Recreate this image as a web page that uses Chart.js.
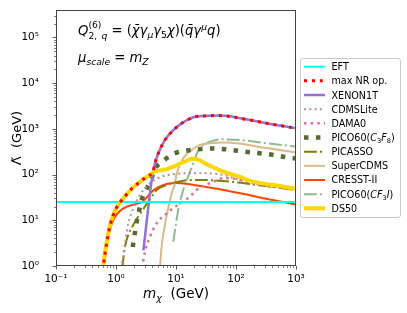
<!DOCTYPE html>
<html><head><meta charset="utf-8">
<script src="https://cdn.jsdelivr.net/npm/chart.js@4.4.0/dist/chart.umd.min.js"></script>
<style>html,body{margin:0;padding:0;background:#fff;overflow:hidden}canvas{display:block}</style>
</head><body>
<canvas id="c" width="407" height="313"></canvas>
<script>
// ---------------- data ----------------
const xTicks = [0.1, 1, 10, 100, 1000];
const yTicks = [1, 10, 100, 1000, 10000, 100000];

const eftM = [0.1, 1000];
const eftL = [25, 25];

const maxNrM = [0.6, 0.66, 0.72, 0.8, 0.9, 1.0, 1.15, 1.4, 1.8, 2.4, 3.0, 3.6, 4.1, 4.47, 5.07, 6.56, 8.5, 12.4, 19.4, 30, 50, 80, 117, 200, 325, 600, 1000];
const maxNrL = [0.8, 2, 4, 8, 13, 18, 24, 33, 48, 66, 83, 97, 108, 177, 293, 572, 870, 1320, 1790, 1920, 1950, 1880, 1700, 1500, 1320, 1150, 1030];

const xenonM = [2.86, 3.2, 3.5, 3.8, 4.1, 4.47, 5.07, 6.56, 8.5, 12.4, 19.4, 30, 50, 80, 117, 200, 325, 600, 1000];
const xenonL = [2.2, 8, 22, 55, 105, 177, 293, 572, 870, 1320, 1790, 1920, 1950, 1880, 1700, 1500, 1320, 1150, 1030];

const cdmsLiteM = [1.22, 1.36, 1.47, 1.6, 1.94, 2.5, 3.7, 5.75, 9.6, 17, 25, 61, 117, 220, 400, 1000];
const cdmsLiteL = [0.9, 2.2, 4.4, 8.6, 18, 36, 65, 90, 103, 107, 107, 98, 76, 62, 55, 48];

const damaM = [2.72, 3.04, 3.69, 4.77, 7.0, 11.7, 17.1, 22, 42, 61, 100, 150, 300, 1000];
const damaL = [0.9, 2.05, 4.4, 8.6, 14.2, 23.5, 33, 46, 70, 83, 80, 70, 58, 47];

const pico60C3F8M = [1.9, 2.05, 2.2, 2.4, 2.6, 3.0, 3.5, 4.0, 4.5, 5.5, 6.6, 8, 9.6, 14.7, 22, 35, 54, 85, 132, 210, 325, 490, 750, 1000];
const pico60C3F8L = [2.6, 5, 9, 15, 25, 40, 60, 90, 135, 180, 215, 260, 293, 333, 355, 372, 365, 346, 318, 300, 282, 259, 236, 225];

const picassoM = [1.27, 1.41, 1.6, 1.94, 2.35, 3.04, 3.94, 4.77, 7, 11, 17, 32, 60, 120, 220, 500, 1000];
const picassoL = [0.9, 2.6, 4.8, 7.9, 12, 20, 33, 46, 59, 70, 76, 76, 72, 66, 59, 52, 46];

const superCdmsM = [5.4, 5.75, 6.6, 7.5, 8.5, 9.6, 10.3, 13.2, 18.3, 24.4, 37, 61, 120, 222, 500, 1000];
const superCdmsL = [0.9, 2.6, 8.6, 19.8, 39, 64, 107, 228, 346, 440, 485, 505, 475, 410, 350, 305];

const cresstM = [0.62, 0.7, 0.8, 0.9, 1.03, 1.3, 1.7, 2.2, 2.7, 3.2, 3.8, 4.5, 5.4, 7, 10, 15, 20, 40, 117, 300, 1000];
const cresstL = [0.9, 2.8, 6.5, 10, 13.5, 18, 21, 23, 25, 31, 40, 48, 55, 62, 65, 63, 59, 51, 39, 30, 22];

const pico60Cf3iM = [9.0, 10, 11, 13.2, 15.9, 19.4, 23.6, 28, 37, 54, 117, 325, 1000];
const pico60Cf3iL = [3.4, 8.6, 18, 46, 90, 177, 340, 440, 525, 590, 572, 483, 410];

const ds50M = [0.6, 0.66, 0.72, 0.8, 0.9, 1.0, 1.15, 1.4, 1.8, 2.4, 3.0, 3.6, 4.2, 5.1, 7, 9, 11.7, 15, 19, 23, 32, 45, 61, 120, 180, 500, 1000];
const ds50L = [0.8, 2, 4, 8, 13, 18, 24, 33, 48, 66, 83, 97, 113, 122, 132, 149, 175, 200, 222, 215, 170, 138, 116, 88, 72, 57, 49];

// ---------------- helpers ----------------
const FAM = "'DejaVu Sans', sans-serif";
const SUP = {'0':'\u2070','1':'\u00b9','2':'\u00b2','3':'\u00b3','4':'\u2074','5':'\u2075','6':'\u2076','7':'\u2077','8':'\u2078','9':'\u2079','-':'\u207b'};
function decLabel(v) {
  const e = Math.round(Math.log10(v));
  return '10' + String(e).split('').map(c => SUP[c]).join('');
}
function pts(ms, ls) { return ms.map((m, i) => ({x: m, y: ls[i]})); }
function ds(label, ms, ls, style, order) {
  return Object.assign({
    label, data: pts(ms, ls), order,
    pointRadius: 0, pointHoverRadius: 0, fill: false, clip: 0,
    cubicInterpolationMode: 'monotone', borderCapStyle: 'butt', borderJoinStyle: 'round'
  }, style);
}

const S = {
  eft:   {borderColor: '#00ffff', borderWidth: 2},
  maxnr: {borderColor: '#ff0000', borderWidth: 3, borderDash: [3, 4.9]},
  xenon: {borderColor: '#9370db', borderWidth: 2.5},
  cdmsl: {borderColor: '#bc8f8f', borderWidth: 2, borderDash: [2, 3.3]},
  dama:  {borderColor: '#db7093', borderWidth: 2.5, borderDash: [2.5, 4.1]},
  pico:  {borderColor: '#556b2f', borderWidth: 4.5, borderDash: [4.5, 7.4]},
  picas: {borderColor: '#808000', borderWidth: 2, borderDash: [12.8, 3.2, 2, 3.2]},
  scdms: {borderColor: '#deb887', borderWidth: 2},
  cress: {borderColor: '#ff4500', borderWidth: 2},
  cf3i:  {borderColor: '#8fbc8f', borderWidth: 2, borderDash: [12.8, 3.2, 2, 3.2]},
  ds50:  {borderColor: '#ffd700', borderWidth: 4}
};

const datasets = [
  ds('EFT', eftM, eftL, S.eft, 2),
  ds('max NR op.', maxNrM, maxNrL, S.maxnr, 0),
  ds('XENON1T', xenonM, xenonL, S.xenon, 3),
  ds('CDMSLite', cdmsLiteM, cdmsLiteL, S.cdmsl, 4),
  ds('DAMA0', damaM, damaL, S.dama, 5),
  ds('PICO60(C3F8)', pico60C3F8M, pico60C3F8L, S.pico, 6),
  ds('PICASSO', picassoM, picassoL, S.picas, 7),
  ds('SuperCDMS', superCdmsM, superCdmsL, S.scdms, 8),
  ds('CRESST-II', cresstM, cresstL, S.cress, 9),
  ds('PICO60(CF3I)', pico60Cf3iM, pico60Cf3iL, S.cf3i, 10),
  ds('DS50', ds50M, ds50L, S.ds50, 1)
];

// rich text: parts = [{t, s(size), i(italic), dy, stack}] ; stack: draw at same x as previous part
function rich(ctx, x, y, parts) {
  let cx = x, lastX = x, lastW = 0;
  ctx.textBaseline = 'alphabetic';
  ctx.textAlign = 'left';
  for (const p of parts) {
    ctx.font = (p.i ? 'italic ' : '') + p.s + 'px ' + FAM;
    const w = ctx.measureText(p.t).width;
    let px = cx;
    if (p.stack) { px = lastX; }
    ctx.fillText(p.t, px, y + (p.dy || 0));
    if (p.stack) { cx = lastX + Math.max(lastW, w); lastW = Math.max(lastW, w); }
    else { lastX = cx; lastW = w; cx += w; }
  }
  return cx - x;
}
function richWidth(ctx, parts) {
  let cx = 0, lastX = 0, lastW = 0;
  for (const p of parts) {
    ctx.font = (p.i ? 'italic ' : '') + p.s + 'px ' + FAM;
    const w = ctx.measureText(p.t).width;
    if (p.stack) { cx = lastX + Math.max(lastW, w); lastW = Math.max(lastW, w); }
    else { lastX = cx; lastW = w; cx += w; }
  }
  return cx;
}

const LEG = 9.6;
const legendText = [
  [{t: 'EFT', s: LEG}],
  [{t: 'max NR op.', s: LEG}],
  [{t: 'XENON1T', s: LEG}],
  [{t: 'CDMSLite', s: LEG}],
  [{t: 'DAMA0', s: LEG}],
  [{t: 'PICO60(', s: LEG}, {t: 'C', s: LEG, i: 1}, {t: '3', s: 6.7, dy: 2}, {t: 'F', s: LEG, i: 1}, {t: '8', s: 6.7, dy: 2}, {t: ')', s: LEG}],
  [{t: 'PICASSO', s: LEG}],
  [{t: 'SuperCDMS', s: LEG}],
  [{t: 'CRESST-II', s: LEG}],
  [{t: 'PICO60(', s: LEG}, {t: 'CF', s: LEG, i: 1}, {t: '3', s: 6.7, dy: 2}, {t: 'I', s: LEG, i: 1}, {t: ')', s: LEG}],
  [{t: 'DS50', s: LEG}]
];

const decor = {
  id: 'decor',
  afterDraw(chart) {
    const ctx = chart.ctx, a = chart.chartArea;
    const xs = chart.scales.x, ys = chart.scales.y;
    ctx.save();
    // minor & major ticks (outward)
    ctx.strokeStyle = '#333';
    for (let d = -1; d <= 3; d++) {
      for (let k = 1; k <= 9; k++) {
        const v = k * Math.pow(10, d);
        if (v < 0.1 - 1e-9 || v > 1000 + 1e-6) continue;
        const p = Math.round(xs.getPixelForValue(v)) + 0.5;
        const L = k === 1 ? 3.5 : 2;
        ctx.lineWidth = k === 1 ? 0.8 : 0.6;
        ctx.beginPath(); ctx.moveTo(p, a.bottom); ctx.lineTo(p, a.bottom + L); ctx.stroke();
      }
    }
    for (let d = 0; d <= 5; d++) {
      for (let k = 1; k <= 9; k++) {
        const v = k * Math.pow(10, d);
        if (v > ys.max) continue;
        const p = Math.round(ys.getPixelForValue(v)) + 0.5;
        const L = k === 1 ? 3.5 : 2;
        ctx.lineWidth = k === 1 ? 0.8 : 0.6;
        ctx.beginPath(); ctx.moveTo(a.left, p); ctx.lineTo(a.left - L, p); ctx.stroke();
      }
    }
    // frame
    ctx.lineWidth = 1;
    ctx.strokeStyle = '#444';
    ctx.strokeRect(Math.round(a.left) + 0.5, Math.round(a.top) + 0.5, Math.round(a.right - a.left) - 1, Math.round(a.bottom - a.top) - 1);

    ctx.fillStyle = '#000';
    // x title
    const xt = [{t: 'm', s: 13.5, i: 1}, {t: '\u03c7', s: 9.5, i: 1, dy: 3}, {t: '  (GeV)', s: 13.5}];
    const xw = richWidth(ctx, xt);
    rich(ctx, (a.left + a.right) / 2 - xw / 2, 298, xt);
    // y title (rotated)
    ctx.save();
    ctx.translate(21, (a.top + a.bottom) / 2);
    ctx.rotate(-Math.PI / 2);
    const yt = [{t: '\u039b\u0303', s: 13}, {t: '  (GeV)', s: 13}];
    const yw = richWidth(ctx, yt);
    rich(ctx, -yw / 2, 0, yt);
    ctx.restore();

    // annotations
    const F = 13.2, f = 9.2;
    rich(ctx, 78, 35, [
      {t: 'Q', s: F, i: 1},
      {t: '(6)', s: f, dy: -7},
      {t: '2,', s: f, dy: 3.5, stack: 1},
      {t: 'q', s: f, i: 1, dy: 3.5},
      {t: ' = (', s: F},
      {t: '\u03c7\u0304', s: F, i: 1},
      {t: '\u03b3', s: F, i: 1},
      {t: '\u03bc', s: f, i: 1, dy: 3},
      {t: '\u03b3', s: F, i: 1},
      {t: '5', s: f, dy: 3},
      {t: '\u03c7', s: F, i: 1},
      {t: ')(', s: F},
      {t: 'q\u0304', s: F, i: 1},
      {t: '\u03b3', s: F, i: 1},
      {t: '\u03bc', s: f, i: 1, dy: -5.5},
      {t: 'q', s: F, i: 1},
      {t: ')', s: F}
    ]);
    rich(ctx, 78, 62, [
      {t: '\u03bc', s: F, i: 1},
      {t: 'scale', s: f, i: 1, dy: 3},
      {t: ' = ', s: F},
      {t: 'm', s: F, i: 1},
      {t: 'Z', s: f, i: 1, dy: 3}
    ]);

    // legend
    const lx = 300.5, ly = 58.5, lw = 100, lh = 159;
    ctx.beginPath();
    ctx.roundRect(lx, ly, lw, lh, 2.5);
    ctx.fillStyle = 'rgba(255,255,255,0.85)';
    ctx.fill();
    ctx.strokeStyle = '#cccccc';
    ctx.lineWidth = 1;
    ctx.stroke();
    chart.data.datasets.forEach((d, i) => {
      const yc = 66.7 + i * 14.16;
      ctx.save();
      ctx.strokeStyle = d.borderColor;
      ctx.lineWidth = d.borderWidth;
      ctx.lineCap = 'butt';
      ctx.setLineDash(d.borderDash || []);
      ctx.beginPath(); ctx.moveTo(304, yc); ctx.lineTo(325, yc); ctx.stroke();
      ctx.restore();
      ctx.fillStyle = '#000';
      rich(ctx, 331.5, yc + 3.5, legendText[i]);
    });
    ctx.restore();
  }
};

new Chart(document.getElementById('c'), {
  type: 'line',
  data: {datasets},
  options: {
    responsive: false,
    animation: false,
    events: [],
    layout: {padding: {left: 0, right: 111, top: 10, bottom: 0}},
    plugins: {legend: {display: false}, tooltip: {enabled: false}},
    scales: {
      x: {
        type: 'logarithmic', min: 0.1, max: 1000,
        afterBuildTicks: s => { s.ticks = xTicks.map(v => ({value: v, major: true})); },
        afterFit: s => { s.height = 47; s.paddingLeft = 0; s.paddingRight = 0; },
        grid: {display: false}, border: {display: false},
        ticks: {callback: v => decLabel(v), font: {family: FAM, size: 10.5}, color: '#000', padding: -1, maxRotation: 0, autoSkip: false}
      },
      y: {
        type: 'logarithmic', min: 1, max: Math.pow(10, 5.6),
        afterBuildTicks: s => { s.ticks = yTicks.map(v => ({value: v, major: true})); },
        afterFit: s => { s.width = 56; s.paddingTop = 0; s.paddingBottom = 0; },
        grid: {display: false}, border: {display: false},
        ticks: {callback: v => decLabel(v), font: {family: FAM, size: 10.5}, color: '#000', padding: 9, autoSkip: false}
      }
    }
  },
  plugins: [decor]
});
</script>
</body></html>
